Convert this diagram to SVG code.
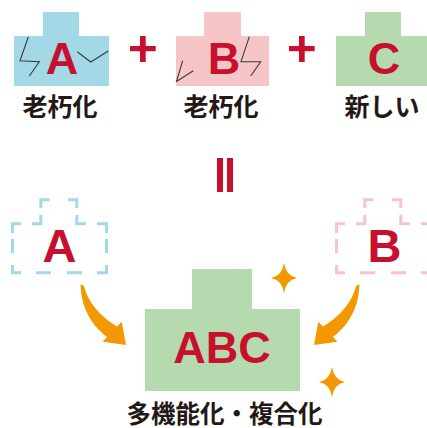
<svg xmlns="http://www.w3.org/2000/svg" width="427" height="428" viewBox="0 0 427 428">
<defs>
<style>
.blue{fill:#a3d8e6}
.pink{fill:#f6c6c7}
.green{fill:#b5dab0}
.red{fill:#c8102e}
.letter{font-family:"Liberation Sans",Arial,sans-serif;font-weight:700;fill:#c8102e;text-anchor:middle}
.jp{font-family:"Noto Sans CJK JP","Noto Sans CJK SC",sans-serif;font-weight:700;fill:#231815;text-anchor:middle}
.crack{fill:none;stroke:#3a3a3a;stroke-width:1.1;stroke-linejoin:miter}
.dash{fill:none;stroke-width:3;stroke-linecap:butt;stroke-linejoin:miter}
.star{fill:#f39800}
.arrow{fill:#f39800}
</style>
<path id="dashOutline" d="M12.5,233 V223.8 H21 M32,223.8 H40.8 V215 M40.8,208 V199.8 H49.5 M68,199.8 H76.8 V208 M76.8,215 V223.8 H86 M97,223.8 H106.5 V233 M106.5,239 V253 M106.5,265 V272.8 H97 M82,272.8 H67 M51,272.8 H36 M21,272.8 H12.5 V265 M12.5,253 V239"/>
<path id="sparkle" d="M0,-15 Q2,-2 13,0 Q2,2 0,15 Q-2,2 -13,0 Q-2,-2 0,-15 Z"/>
<path id="curvedArrow" d="M80.7,284 C80.5,305 90,324 107,337 L102.7,341.7 L126,345 L121.7,321.7 L117,326.5 C101,317 88,303 84,286 Z"/>
</defs>

<g id="node-A">
<path class="blue" d="M14,36 H43 V12 H79 V36 H109 V86 H14 Z"/>
<path class="crack" d="M28.3,37 L20,60.7 L39.3,61.7 L29.3,76"/>
<path class="crack" d="M77.3,51.7 L90.7,62 L108.3,51"/>
<text class="letter" x="62" y="74" font-size="45">A</text>
<text class="jp" x="60" y="116" font-size="25">老朽化</text>
</g>

<g id="plus-1">
<rect class="red" x="130" y="46" width="25.7" height="5.2"/>
<rect class="red" x="140" y="36" width="5.7" height="26"/>
</g>

<g id="node-B">
<path class="pink" d="M176,36 H204 V12 H241 V36 H269 V86 H176 Z"/>
<path class="crack" d="M182.7,60.7 L176.5,81.5 L193.3,70.7"/>
<path class="crack" d="M249.3,36.7 L241,61.7 L260.7,61.7 L250.7,76"/>
<text class="letter" x="224" y="74" font-size="45">B</text>
<text class="jp" x="221" y="116" font-size="25">老朽化</text>
</g>

<g id="plus-2">
<rect class="red" x="289" y="46" width="25.7" height="5.2"/>
<rect class="red" x="299" y="36" width="5.7" height="26"/>
</g>

<g id="node-C">
<path class="green" d="M336,36 H365 V12 H401 V36 H431 V86 H336 Z"/>
<text class="letter" x="384" y="74" font-size="45">C</text>
<text class="jp" x="382" y="116" font-size="25">新しい</text>
</g>

<g id="equals">
<rect class="red" x="217" y="158" width="6" height="34"/>
<rect class="red" x="227" y="158" width="6" height="34"/>
</g>

<g id="node-A-remnant">
<use href="#dashOutline" class="dash" stroke="#a3d8e6"/>
<text class="letter" x="59.5" y="262" font-size="47">A</text>
</g>

<g id="node-B-remnant">
<use href="#dashOutline" class="dash" stroke="#f6c6c7" transform="translate(324,0)"/>
<text class="letter" x="384.5" y="262" font-size="47">B</text>
</g>

<g id="connectors">
<use href="#curvedArrow" class="arrow"/>
<use href="#curvedArrow" class="arrow" transform="translate(440,0) scale(-1,1)"/>
</g>

<g id="node-ABC">
<path class="green" d="M145,309 H192 V269 H252 V309 H300 V391 H145 Z"/>
<text class="letter" x="222" y="362.5" font-size="45">ABC</text>
<text class="jp" x="224.5" y="422.5" font-size="24.5">多機能化・複合化</text>
</g>

<g id="sparkles">
<use href="#sparkle" class="star" transform="translate(284,278)"/>
<use href="#sparkle" class="star" transform="translate(332,382)"/>
</g>
</svg>
